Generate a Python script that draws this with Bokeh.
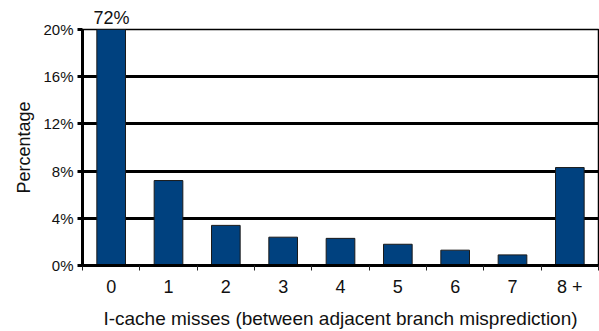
from bokeh.plotting import figure
from bokeh.models import Range1d, FixedTicker, ColumnDataSource
from bokeh.embed import file_html
from bokeh.resources import INLINE

categories = ["0", "1", "2", "3", "4", "5", "6", "7", "8 +"]
percentages = [72, 7.2, 3.4, 2.4, 2.3, 1.8, 1.3, 0.9, 8.3]
y_ticks = [0, 4, 8, 12, 16, 20]
y_tick_labels = ["0%", "4%", "8%", "12%", "16%", "20%"]
y_max = 20
overflow_label = "72%"

FONT = "Liberation Sans"
xs = list(range(len(categories)))
src = ColumnDataSource(dict(x=xs, top=percentages))

p = figure(width=599, height=331, output_backend="svg", toolbar_location=None,
           x_range=Range1d(-0.5, len(categories) - 0.5), y_range=Range1d(0, y_max),
           min_border_left=82, min_border_right=1, min_border_top=29, min_border_bottom=66,
           title=overflow_label, title_location="above")

p.title.align = "left"
p.title.offset = 11
p.title.standoff = 4
p.title.text_font = FONT
p.title.text_font_size = "18px"
p.title.text_font_style = "normal"
p.title.text_color = "#111111"

p.vbar(x="x", top="top", width=0.5, bottom=0, source=src,
       fill_color="#00417f", line_color="#1a1a1a", line_width=1)

# y axis
p.yaxis.ticker = FixedTicker(ticks=y_ticks)
p.yaxis.major_label_overrides = {t: l for t, l in zip(y_ticks, y_tick_labels)}
p.yaxis.axis_line_width = 3
p.yaxis.axis_line_color = "black"
p.yaxis.major_tick_line_width = 3
p.yaxis.major_tick_line_color = "black"
p.yaxis.major_tick_out = 5
p.yaxis.major_tick_in = 0
p.yaxis.minor_tick_line_color = None
p.yaxis.major_label_standoff = 4
p.yaxis.major_label_text_font = FONT
p.yaxis.major_label_text_font_size = "15px"
p.yaxis.major_label_text_color = "#111111"
p.yaxis.axis_label = "Percentage"
p.yaxis.axis_label_text_font = FONT
p.yaxis.axis_label_text_font_size = "18px"
p.yaxis.axis_label_text_font_style = "normal"
p.yaxis.axis_label_text_color = "#111111"
p.yaxis.axis_label_standoff = 6

# x axis
p.xaxis.ticker = FixedTicker(ticks=xs, minor_ticks=[i - 0.5 for i in range(len(categories) + 1)])
p.xaxis.major_label_overrides = {i: c for i, c in zip(xs, categories)}
p.xaxis.axis_line_width = 3
p.xaxis.axis_line_color = "black"
p.xaxis.major_tick_line_color = None
p.xaxis.major_tick_out = 0
p.xaxis.major_tick_in = 0
p.xaxis.minor_tick_line_color = "#222222"
p.xaxis.minor_tick_line_width = 1
p.xaxis.minor_tick_out = 5
p.xaxis.minor_tick_in = 0
p.xaxis.major_label_standoff = 6
p.xaxis.major_label_text_font = FONT
p.xaxis.major_label_text_font_size = "18px"
p.xaxis.major_label_text_color = "#111111"
p.xaxis.axis_label = "I-cache misses (between adjacent branch misprediction)"
p.xaxis.axis_label_text_font = FONT
p.xaxis.axis_label_text_font_size = "19px"
p.xaxis.axis_label_text_font_style = "normal"
p.xaxis.axis_label_text_color = "#111111"
p.xaxis.axis_label_standoff = 8

# grid
p.xgrid.grid_line_color = None
p.ygrid.ticker = FixedTicker(ticks=y_ticks)
p.ygrid.grid_line_color = "black"
p.ygrid.grid_line_width = 3

p.outline_line_color = "black"
p.outline_line_width = 1.5
p.background_fill_color = "white"
p.border_fill_color = "white"

open("out.html", "w").write(file_html(p, INLINE))
